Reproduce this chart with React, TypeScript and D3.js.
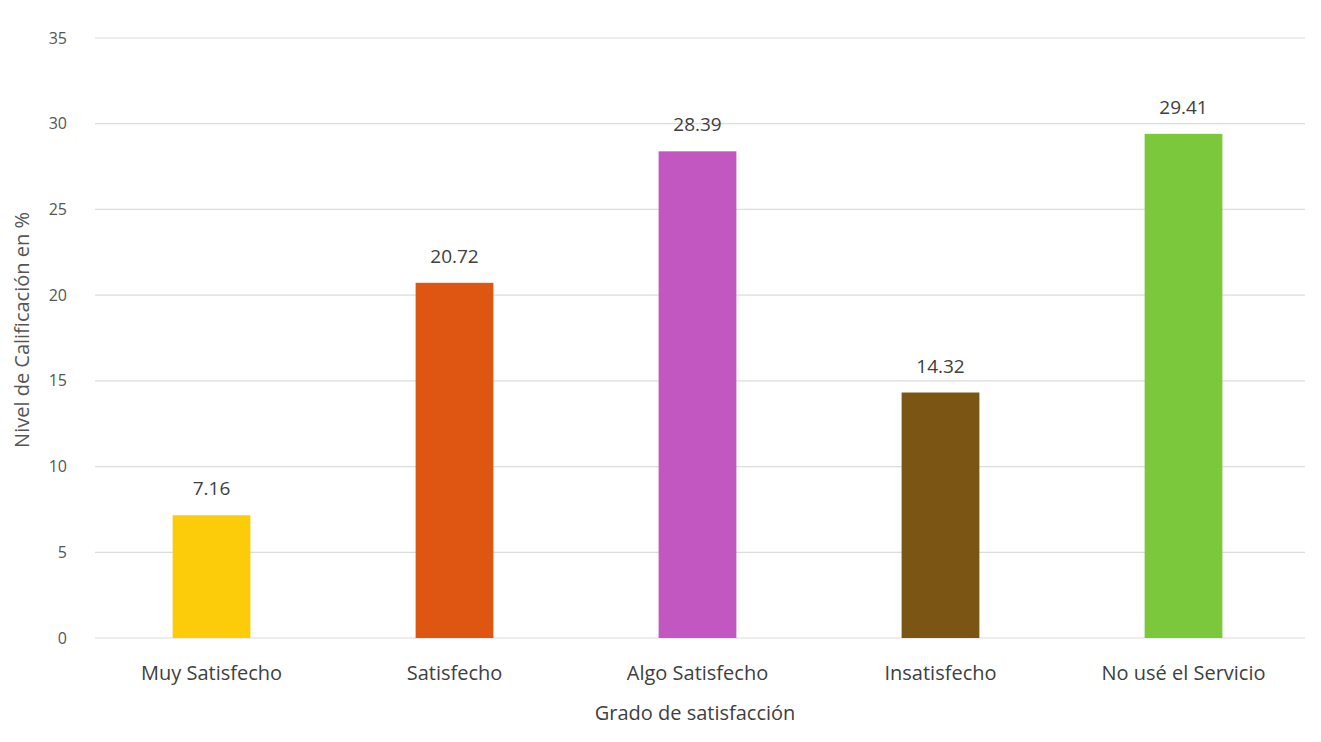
import React from "react";
import * as d3 from "d3";

const categories = ["Muy Satisfecho", "Satisfecho", "Algo Satisfecho", "Insatisfecho", "No usé el Servicio"];
const values = [7.16, 20.72, 28.39, 14.32, 29.41];
const colors = ["#FCCC0A", "#DF5512", "#C257C2", "#7A5514", "#7CC83C"];
const yTicks = [0, 5, 10, 15, 20, 25, 30, 35];
const yTitle = "Nivel de Calificación en %";
const xTitle = "Grado de satisfacción";

const W = 1321;
const H = 742;
const margin = { left: 90, right: 16, top: 38, bottom: 104 };

export default function App() {
  const x = d3
    .scaleBand<string>()
    .domain(categories)
    .range([margin.left, W - margin.right])
    .paddingInner(0.68)
    .paddingOuter(0.34);
  const y = d3.scaleLinear().domain([0, 35]).range([H - margin.bottom, margin.top]);
  const font = "'Open Sans', Lato, sans-serif";
  const textColor = "#555555";
  return (
    <svg width={W} height={H} style={{ position: "absolute", left: 0, top: 0, background: "#fff" }}>
      <rect x={0} y={0} width={W} height={H} fill="#fff" />
      {yTicks.map((t) => (
        <g key={t}>
          <line x1={margin.left + 5} x2={W - margin.right} y1={y(t)} y2={y(t)} stroke="#dcdcdc" strokeWidth={1.2} />
          <text x={67} y={y(t)} dy="0.35em" textAnchor="end" fontFamily={font} fontSize={16} fill={textColor}>
            {t}
          </text>
        </g>
      ))}
      {categories.map((c, i) => (
        <g key={c}>
          <rect x={x(c)} y={y(values[i])} width={x.bandwidth()} height={y(0) - y(values[i])} fill={colors[i]} />
          <text
            x={(x(c) as number) + x.bandwidth() / 2}
            y={y(values[i]) - 20}
            textAnchor="middle"
            fontFamily={font}
            fontSize={19}
            fill="#404040"
          >
            {values[i].toFixed(2)}
          </text>
          <text
            x={(x(c) as number) + x.bandwidth() / 2}
            y={y(0) + 42}
            textAnchor="middle"
            fontFamily={font}
            fontSize={20}
            fill="#404040"
          >
            {c}
          </text>
        </g>
      ))}
      <text
        transform={`translate(29, 330) rotate(-90)`}
        textAnchor="middle"
        fontFamily={font}
        fontSize={20}
        fill={textColor}
      >
        {yTitle}
      </text>
      <text
        x={695}
        y={y(0) + 82}
        textAnchor="middle"
        fontFamily={font}
        fontSize={20}
        fill="#404040"
      >
        {xTitle}
      </text>
    </svg>
  );
}
